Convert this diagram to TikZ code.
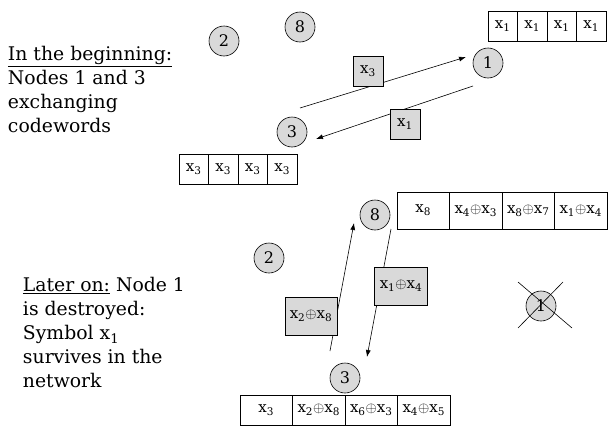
\documentclass[tikz,border=0pt]{standalone}
\usepackage{fontspec}
\setmainfont{DejaVu Serif}
\usetikzlibrary{arrows,arrows.meta}
\usetikzlibrary{positioning,shapes,fit}
\newcommand{\xs}[1]{x\textsubscript{#1}}

\begin{document}
\begin{tikzpicture}[%
      x=1pt, y=-1pt, line width=0.6pt,
      every node/.style={inner sep=0pt, outer sep=0pt, font=\fontsize{15}{17}\selectfont},
      nd/.style={circle, draw, fill=black!15, minimum size=30pt, font=\fontsize{16}{18}\selectfont},
      cell/.style={rectangle, draw, minimum height=30pt, minimum width=29.5pt},
      wcell/.style={cell, minimum width=52.5pt},
      msg/.style={rectangle, draw, fill=black!15, minimum size=30pt},
      txt/.style={anchor=north west, align=left, font=\fontsize{18.8}{24}\selectfont},
      node distance=0pt, >={Latex[length=7pt,width=5pt]}
    ]
    \useasboundingbox (0,0) rectangle (608,434);
    % in the beginning
    \node [txt] (t1) at (8,46) {\underline{In the beginning:}\\Nodes 1 and 3\\exchanging\\codewords};
    \node [nd] (2) at (224,41) {2};
    \node [nd] (8) at (300,27) {8};
    \node [nd] (1) at (488,63) {1};
    \node [nd] (3) at (292,132) {3};
    \node [cell, anchor=north west] (a1) at (488,11) {\xs{1}};
    \node [cell, right=of a1] (a2) {\xs{1}};
    \node [cell, right=of a2] (a3) {\xs{1}};
    \node [cell, right=of a3] (a4) {\xs{1}};
    \node [cell, anchor=north west] (b1) at (179,154) {\xs{3}};
    \node [cell, right=of b1] (b2) {\xs{3}};
    \node [cell, right=of b2] (b3) {\xs{3}};
    \node [cell, right=of b3] (b4) {\xs{3}};
    \path [draw] ([shift={(8,-24)}]3.center) edge[->] ([shift={(-22,-6)}]1.center)
    ([shift={(-15,23)}]1.center) edge[->] ([shift={(24,7)}]3.center);
    \node [msg] (m3) at (368,71) {\xs{3}};
    \node [msg] (m1) at (405,124) {\xs{1}};
    % later on
    \node [txt] (t2) at (23,277) {\underline{Later on:} Node 1\\is destroyed:\\Symbol \xs{1}\\survives in the\\network};
    \node [nd] (l8) at (375,215) {8};
    \node [nd] (l2) at (269,258) {2};
    \node [nd] (l3) at (345,378) {3};
    \node [nd] (l1) at (541,306) {1};
    \draw ([shift={(-23,-24)}]l1.center) -- ([shift={(31,22)}]l1.center)
    ([shift={(22,-24)}]l1.center) -- ([shift={(-23,22)}]l1.center);
    \node [wcell, minimum height=37pt, anchor=north west] (c1) at (397,192) {\xs{8}};
    \node [wcell, minimum height=37pt, right=of c1] (c2) {\xs{4}$\oplus$\xs{3}};
    \node [wcell, minimum height=37pt, right=of c2] (c3) {\xs{8}$\oplus$\xs{7}};
    \node [wcell, minimum height=37pt, right=of c3] (c4) {\xs{1}$\oplus$\xs{4}};
    \node [wcell, anchor=north west] (d1) at (240,395) {\xs{3}};
    \node [wcell, right=of d1] (d2) {\xs{2}$\oplus$\xs{8}};
    \node [wcell, right=of d2] (d3) {\xs{6}$\oplus$\xs{3}};
    \node [wcell, right=of d3] (d4) {\xs{4}$\oplus$\xs{5}};
    \path [draw] ([shift={(-15,-27)}]l3.center) edge[->] ([shift={(-21,8)}]l8.center)
    ([shift={(16,14)}]l8.center) edge[->] ([shift={(22,-21)}]l3.center);
    \node [msg, minimum width=52pt, minimum height=38pt] (m28) at (311,316) {\xs{2}$\oplus$\xs{8}};
    \node [msg, minimum width=53pt, minimum height=38pt] (m14) at (401,286) {\xs{1}$\oplus$\xs{4}};
  \end{tikzpicture}
\end{document}
